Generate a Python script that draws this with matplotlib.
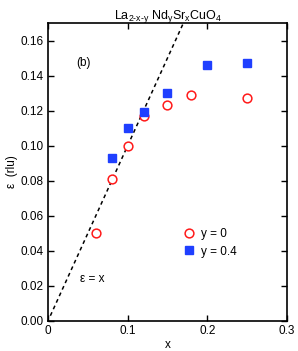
import matplotlib
matplotlib.use('Agg')
import matplotlib.pyplot as plt

plt.rcParams['font.family'] = ['Liberation Sans', 'DejaVu Sans']
plt.rcParams['mathtext.fontset'] = 'custom'
plt.rcParams['mathtext.rm'] = 'Liberation Sans'
plt.rcParams['mathtext.it'] = 'Liberation Sans'

# y = 0 series (open red circles)
x_y0 = [0.06, 0.08, 0.10, 0.12, 0.15, 0.18, 0.25]
eps_y0 = [0.050, 0.081, 0.100, 0.117, 0.123, 0.129, 0.127]

# y = 0.4 series (filled blue squares)
x_y4 = [0.08, 0.10, 0.12, 0.15, 0.20, 0.25]
eps_y4 = [0.093, 0.110, 0.119, 0.130, 0.146, 0.147]

# eps = x guide line
line_x = [0.003, 0.17]

fig = plt.figure(figsize=(2.98, 3.51), dpi=100)
ax = fig.add_axes([0.161, 0.0855, 0.802, 0.849])

ax.plot(line_x, line_x, color='black', ls=(0, (2.5, 2.2)), lw=1.1)
ax.plot(x_y0, eps_y0, 'o', mfc='white', mec='#ff1a1a', mew=1.1, ms=6.3, ls='none', label='y = 0')
ax.plot(x_y4, eps_y4, 's', color='#1f3fff', ms=5.3, ls='none', label='y = 0.4')

ax.set_xlim(0, 0.3)
ax.set_ylim(0, 0.17)
ax.set_xticks([0, 0.1, 0.2, 0.3])
ax.set_xticklabels(['0', '0.1', '0.2', '0.3'])
ax.set_yticks([0.00, 0.02, 0.04, 0.06, 0.08, 0.10, 0.12, 0.14, 0.16])
ax.set_yticklabels([f'{v:.2f}' for v in ax.get_yticks()])
ax.tick_params(direction='in', top=True, right=True, length=4.5, width=1, labelsize=8.5, pad=3)
for s in ax.spines.values():
    s.set_linewidth(1.2)

ax.set_xlabel('x', fontsize=8.5, labelpad=1)
ax.set_ylabel('ε  (rlu)', fontsize=8.5, labelpad=2)
ax.set_title(r'La$_{\text{2-x-y}}$ Nd$_\mathrm{y}$Sr$_\mathrm{x}$CuO$_4$', fontsize=9, pad=3)

ax.text(0.040, 0.024, 'ε = x', fontsize=8.5, va='center')
ax.text(0.036, 0.147, '(b)', fontsize=8.5, va='center')

ax.legend(loc='center left', bbox_to_anchor=(0.54, 0.263), frameon=False, fontsize=8.5,
          handletextpad=0.5, labelspacing=0.5, handlelength=1.0, borderpad=0)

fig.savefig('out.png', dpi=100)
